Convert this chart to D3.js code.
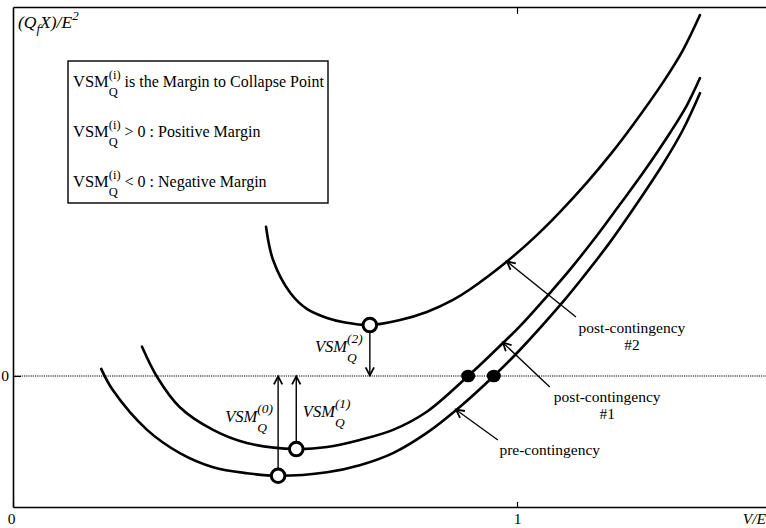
<!DOCTYPE html>
<html>
<head>
<meta charset="utf-8">
<script src="https://cdn.jsdelivr.net/npm/d3@7"></script>
<style>
  html, body { margin: 0; padding: 0; background: #fff; }
  svg { display: block; font-family: "Liberation Serif", "Times New Roman", serif; }
</style>
</head>
<body>
<svg id="chart" width="766" height="528"></svg>
<script>
// Q-V curves: normalised voltage V/E against (Q_f X)/E^2
const preContingency = [
  [0.175, 0.014], [0.198, -0.028], [0.266, -0.107], [0.331, -0.153], [0.397, -0.181],
  [0.464, -0.193], [0.526, -0.198], [0.623, -0.191], [0.688, -0.177], [0.754, -0.153],
  [0.821, -0.113], [0.887, -0.061], [0.954, 0.000], [1.006, 0.052], [1.091, 0.147],
  [1.131, 0.196], [1.185, 0.266], [1.238, 0.342], [1.290, 0.421], [1.329, 0.488],
  [1.363, 0.561]
];
const postContingency1 = [
  [0.256, 0.058], [0.286, -0.002], [0.331, -0.062], [0.397, -0.107], [0.464, -0.133],
  [0.562, -0.145], [0.623, -0.141], [0.688, -0.127], [0.754, -0.107], [0.821, -0.071],
  [0.903, 0.000], [0.952, 0.046], [1.006, 0.099], [1.069, 0.169], [1.105, 0.211],
  [1.159, 0.279], [1.204, 0.340], [1.250, 0.403], [1.304, 0.483], [1.337, 0.537],
  [1.363, 0.591]
];
const postContingency2 = [
  [0.502, 0.296], [0.516, 0.230], [0.550, 0.165], [0.583, 0.133], [0.623, 0.115],
  [0.659, 0.106], [0.708, 0.101], [0.768, 0.111], [0.821, 0.127], [0.873, 0.151],
  [0.907, 0.172], [0.980, 0.227], [1.040, 0.280], [1.085, 0.325], [1.139, 0.384],
  [1.185, 0.439], [1.230, 0.498], [1.290, 0.583], [1.329, 0.646], [1.363, 0.716]
];

// Minimum of each curve (collapse point) and the VSM label it carries
const collapseX = [0.526, 0.562, 0.708];
const collapseY = [-0.198, -0.145, 0.101];
const vsmIndex = ["(0)", "(1)", "(2)"];
const vsmLabelAt = [[0.421, -0.091], [0.575, -0.081], [0.599, 0.048]];

// Operating points where the curves cross Q = 0
const operatingX = [0.903, 0.954];

// Axis ticks
const xTicks = [0, 1];
const yTicks = [0];

// Curve call-outs: arrow tip on the curve, arrow tail, text lines and their baseline
const calloutTip = [[0.879, -0.067], [0.972, 0.066], [0.980, 0.227]];
const calloutTail = [[0.962, -0.127], [1.065, -0.022], [1.117, 0.117]];
const calloutLines = [["pre-contingency"], ["post-contingency", "#1"], ["post-contingency", "#2"]];
const calloutText = [[1.065, -0.157], [1.179, -0.052], [1.228, 0.085]];

// Legend lines (text after the VSM symbol)
const legendLines = [" is the Margin to Collapse Point", " > 0 : Positive Margin", " < 0 : Negative Margin"];

const svg = d3.select("#chart");
const plotLeft = 13, plotRight = 766, plotTop = 7, plotBottom = 507;

const x = d3.scaleLinear().domain([0, 1.494]).range([plotLeft, plotRight]);
const y = d3.scaleLinear().domain([-0.26, 0.732]).range([plotBottom, plotTop]);

// Arrowhead marker (open chevron)
const defs = svg.append("defs");
defs.append("marker")
  .attr("id", "head")
  .attr("viewBox", "-10 -6 12 12")
  .attr("refX", 0).attr("refY", 0)
  .attr("markerWidth", 12).attr("markerHeight", 12)
  .attr("markerUnits", "userSpaceOnUse")
  .attr("orient", "auto")
  .append("path")
  .attr("d", "M-8,-4.2 L0,0 L-8,4.2")
  .attr("fill", "none").attr("stroke", "#000").attr("stroke-width", 1.8);

// Zero reference line
svg.append("line")
  .attr("x1", plotLeft).attr("x2", plotRight)
  .attr("y1", y(0)).attr("y2", y(0))
  .attr("stroke", "#555").attr("stroke-width", 1.4)
  .attr("stroke-dasharray", "1.2,1");

// Axes
const gx = svg.append("g").attr("transform", `translate(0,${plotBottom})`)
  .call(d3.axisBottom(x).tickValues(xTicks).tickSizeInner(-5).tickSizeOuter(0).tickPadding(6)
    .tickFormat(d3.format("d")));
const gtop = svg.append("g").attr("transform", `translate(0,${plotTop})`)
  .call(d3.axisTop(x).tickValues([1]).tickSizeInner(-7).tickSizeOuter(0).tickFormat(""));
const gy = svg.append("g").attr("transform", `translate(${plotLeft},0)`)
  .call(d3.axisLeft(y).tickValues(yTicks).tickSizeInner(-8).tickSizeOuter(0).tickPadding(4)
    .tickFormat(d3.format("d")));

[gx, gtop, gy].forEach(g => {
  g.select(".domain").attr("stroke", "#000").attr("stroke-width", 1.6);
  g.selectAll(".tick line").attr("stroke", "#000").attr("stroke-width", 1.2);
  g.selectAll(".tick text").attr("font-family", "Liberation Serif, serif")
    .attr("font-size", 15.5).attr("fill", "#000");
});
gx.select(".tick text").attr("dx", -2);

// Axis titles
svg.append("text")
  .attr("x", plotRight).attr("y", 524)
  .attr("text-anchor", "end")
  .attr("font-size", 15.5).attr("font-style", "italic")
  .text("V/E");

const yTitle = svg.append("text")
  .attr("x", 18).attr("y", 28)
  .attr("font-size", 17.5).attr("font-style", "italic");
yTitle.append("tspan").text("(Q");
yTitle.append("tspan").attr("dy", 5).attr("font-size", 13).text("f");
yTitle.append("tspan").attr("dy", -5).text("X)/E");
yTitle.append("tspan").attr("dy", -8).attr("font-size", 13).text("2");

// Curves
const line = d3.line()
  .x(d => x(d[0])).y(d => y(d[1]))
  .curve(d3.curveCatmullRom.alpha(0.5));

[preContingency, postContingency1, postContingency2].forEach(data => {
  svg.append("path")
    .attr("d", line(data))
    .attr("fill", "none").attr("stroke", "#000").attr("stroke-width", 2.6)
    .attr("stroke-linecap", "round");
});

// VSM arrows from each collapse point to the zero line
collapseX.forEach((cx, i) => {
  const y0 = y(collapseY[i]);
  const y1 = y(0);
  svg.append("line")
    .attr("x1", x(cx)).attr("x2", x(cx))
    .attr("y1", y0).attr("y2", y1 + (y1 > y0 ? -0.5 : 0.5))
    .attr("stroke", "#000").attr("stroke-width", 1.4)
    .attr("marker-end", "url(#head)");
});

// Collapse points (hollow)
svg.selectAll("circle.collapse")
  .data(collapseX)
  .join("circle")
  .attr("class", "collapse")
  .attr("cx", d => x(d))
  .attr("cy", (d, i) => y(collapseY[i]))
  .attr("r", 6.8)
  .attr("fill", "#fff").attr("stroke", "#000").attr("stroke-width", 3);

// Operating points (filled)
svg.selectAll("ellipse.op")
  .data(operatingX)
  .join("ellipse")
  .attr("class", "op")
  .attr("cx", d => x(d)).attr("cy", y(0))
  .attr("rx", 7).attr("ry", 6.3)
  .attr("fill", "#000");

// VSM symbol: main text with stacked superscript index and subscript Q
function vsmSymbol(parent, x0, y0, idx, opts) {
  const g = parent.append("g");
  const main = g.append("text")
    .attr("x", x0).attr("y", y0)
    .attr("font-size", opts.size).attr("font-style", opts.style)
    .text("VSM");
  const w = main.node().getComputedTextLength();
  const sx = x0 + w + opts.gap;
  const sup = g.append("text")
    .attr("x", sx).attr("y", y0 - opts.up)
    .attr("font-size", opts.small).attr("font-style", opts.style)
    .text(idx);
  const sub = g.append("text")
    .attr("x", sx).attr("y", y0 + opts.down)
    .attr("font-size", opts.small).attr("font-style", opts.style)
    .text("Q");
  return sx + Math.max(sup.node().getComputedTextLength(), sub.node().getComputedTextLength());
}

vsmLabelAt.forEach((p, i) => {
  vsmSymbol(svg, x(p[0]), y(p[1]), vsmIndex[i],
    { size: 16.5, small: 13.5, style: "italic", gap: 0, up: 9, down: 10 });
});

// Call-outs
calloutTip.forEach((tip, i) => {
  svg.append("line")
    .attr("x1", x(calloutTail[i][0])).attr("y1", y(calloutTail[i][1]))
    .attr("x2", x(tip[0])).attr("y2", y(tip[1]))
    .attr("stroke", "#000").attr("stroke-width", 1.3)
    .attr("marker-end", "url(#head)");
  const t = svg.append("text")
    .attr("x", x(calloutText[i][0])).attr("y", y(calloutText[i][1]))
    .attr("text-anchor", "middle").attr("font-size", 15.5);
  calloutLines[i].forEach((s, k) => {
    t.append("tspan")
      .attr("x", x(calloutText[i][0]))
      .attr("dy", k === 0 ? 0 : 17)
      .text(s);
  });
});

// Legend box
const legend = svg.append("g");
legend.append("rect")
  .attr("x", 68).attr("y", 61).attr("width", 260).attr("height", 142)
  .attr("fill", "#fff").attr("stroke", "#000").attr("stroke-width", 1.4);
legendLines.forEach((s, i) => {
  const by = 87 + i * 50;
  const ex = vsmSymbol(legend, 73, by, "(i)",
    { size: 16.5, small: 12.5, style: "normal", gap: 0, up: 8, down: 9 });
  legend.append("text")
    .attr("x", ex).attr("y", by)
    .attr("font-size", 16)
    .attr("xml:space", "preserve")
    .style("white-space", "pre")
    .text(s);
});
</script>
</body>
</html>
